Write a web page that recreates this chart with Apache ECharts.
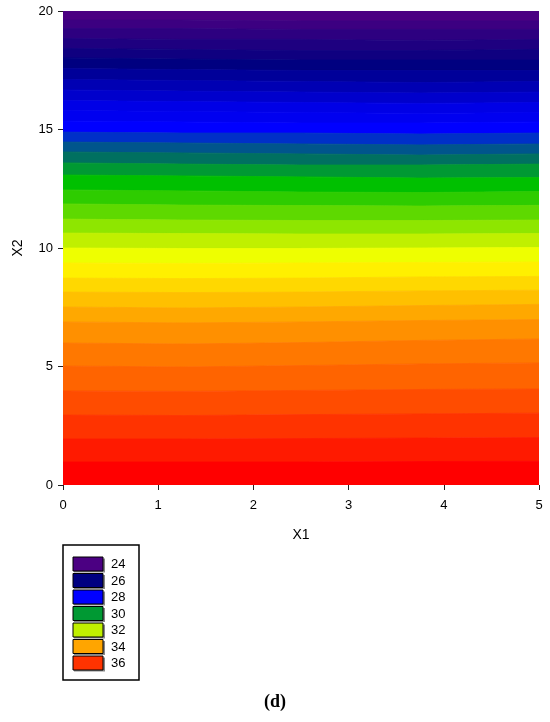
<!DOCTYPE html>
<html>
<head>
<meta charset="utf-8">
<title>Contour X1 X2</title>
<script src="https://cdn.jsdelivr.net/npm/echarts@6/dist/echarts.min.js"></script>
<style>
html, body { margin: 0; padding: 0; background: #fff; }
#chart { width: 550px; height: 722px; }
</style>
</head>
<body>
<div id="chart"></div>
<script>
// X1 positions where the contour lines were read
var x1Points = [0, 1.25, 2.5, 3.75, 5];

// lower level of each filled band, top of the plot to the bottom
var bandLevels = [24.0, 24.4, 24.8, 25.2, 25.6, 26.0, 26.4, 26.8, 27.2, 27.6, 28.0,
    28.4, 28.8, 29.2, 29.6, 30.0, 30.4, 30.8, 31.2, 31.6, 32.0, 32.4,
    32.8, 33.2, 33.6, 34.0, 34.4, 34.8, 35.2, 35.6, 36.0, 36.4, 36.8];

// X2 of each contour line (between two bands) at the x1Points
var contourX2 = [
    [19.62, 19.62, 19.58, 19.58, 19.58],
    [19.26, 19.26, 19.22, 19.22, 19.22],
    [18.84, 18.80, 18.80, 18.76, 18.80],
    [18.42, 18.38, 18.33, 18.33, 18.38],
    [18.02, 17.97, 17.93, 17.93, 17.93],
    [17.57, 17.53, 17.49, 17.49, 17.49],
    [17.11, 17.07, 17.03, 16.98, 17.03],
    [16.67, 16.62, 16.58, 16.54, 16.58],
    [16.22, 16.18, 16.14, 16.10, 16.14],
    [15.80, 15.76, 15.72, 15.68, 15.72],
    [15.36, 15.32, 15.27, 15.27, 15.32],
    [14.89, 14.85, 14.85, 14.81, 14.85],
    [14.47, 14.43, 14.39, 14.35, 14.39],
    [14.05, 14.01, 13.97, 13.92, 13.97],
    [13.59, 13.54, 13.50, 13.50, 13.54],
    [13.08, 13.04, 13.00, 12.95, 12.97],
    [12.45, 12.41, 12.36, 12.34, 12.38],
    [11.86, 11.81, 11.79, 11.77, 11.80],
    [11.22, 11.18, 11.16, 11.16, 11.18],
    [10.63, 10.61, 10.59, 10.59, 10.61],
    [10.00, 9.98, 9.98, 10.00, 10.02],
    [9.37, 9.35, 9.37, 9.39, 9.41],
    [8.73, 8.71, 8.73, 8.78, 8.80],
    [8.14, 8.12, 8.14, 8.19, 8.22],
    [7.51, 7.47, 7.51, 7.57, 7.62],
    [6.88, 6.84, 6.88, 6.94, 6.98],
    [5.99, 5.95, 6.01, 6.10, 6.16],
    [5.02, 4.98, 5.04, 5.11, 5.15],
    [3.97, 3.95, 3.99, 4.03, 4.05],
    [2.95, 2.93, 2.97, 3.00, 3.03],
    [1.94, 1.94, 1.96, 1.98, 2.00],
    [0.97, 0.97, 0.97, 0.99, 1.00]
];

// legend entries
var legendLevels = ['24', '26', '28', '30', '32', '34', '36'];

// colours (style only)
var bandColors = ['#4b0082', '#3c0081', '#2d0080', '#1e0080', '#0f0080', '#000080',
    '#000099', '#0000b3', '#0000cc', '#0000e6', '#0000f0', '#0000ff',
    '#0030c8', '#00558c', '#007060', '#009933', '#00c000', '#2ecc00',
    '#5ed900', '#8ee600', '#c0f000', '#eeff00', '#fff000', '#ffd800',
    '#ffc000', '#ffa800', '#ff9000', '#ff7800', '#ff6400', '#ff4c00',
    '#ff3300', '#ff1a00', '#ff0000'];
var legendColors = ['#4b0082', '#000080', '#0000ff', '#009933', '#c0f000', '#ffa500', '#ff3300'];

var X2_MIN = 0, X2_MAX = 20;
var FONT = 'Liberation Sans, Arial, sans-serif';

var myChart = echarts.init(document.getElementById('chart'), null, {renderer : 'canvas'});

function renderBand(params, api)
{
    var k = api.value(0);
    var upper = k === 0 ? null : contourX2[k - 1];
    var lower = k === contourX2.length ? null : contourX2[k];
    var pts = [];
    var i;
    for (i = 0; i < x1Points.length; i++)
    {
        pts.push(api.coord([x1Points[i], upper ? upper[i] : X2_MAX]));
    }
    for (i = x1Points.length - 1; i >= 0; i--)
    {
        pts.push(api.coord([x1Points[i], lower ? lower[i] : X2_MIN]));
    }
    var c = bandColors[k];
    return {
        type : 'polygon',
        shape : { points : pts },
        style : { fill : c, stroke : c, lineWidth : 0.8 }
    };
}

// legend box built from legendLevels
var legendItems = [];
var boxX = 63, boxY = 545, rowH = 16.5;
legendItems.push({
    type : 'rect',
    shape : { x : boxX, y : boxY, width : 76, height : 135 },
    style : { fill : '#fff', stroke : '#000', lineWidth : 1.5 }
});
legendLevels.forEach(function (lab, i)
{
    var y = boxY + 12 + i * rowH;
    legendItems.push({
        type : 'rect',
        shape : { x : boxX + 11, y : y + 1.5, width : 31, height : 14 },
        style : { fill : '#888', stroke : null }
    });
    legendItems.push({
        type : 'rect',
        shape : { x : boxX + 10, y : y, width : 30, height : 14 },
        style : { fill : legendColors[i], stroke : '#000', lineWidth : 1 }
    });
    legendItems.push({
        type : 'text',
        style : {
            text : lab, x : boxX + 48, y : y + 7.5,
            fill : '#000', font : '13px ' + FONT, verticalAlign : 'middle'
        }
    });
});
legendItems.push({
    type : 'text',
    style : {
        text : '(d)', x : 275, y : 702, align : 'center', verticalAlign : 'middle',
        fill : '#000', font : 'bold 18px "Liberation Serif", "Times New Roman", serif'
    }
});

var option =
{
    animation : false,
    grid : { left : 63, right : 11, top : 11, bottom : 237, containLabel : false },
    xAxis :
    {
        type : 'value', min : 0, max : 5, interval : 1,
        name : 'X1', nameLocation : 'middle', nameGap : 43,
        nameTextStyle : { color : '#000', fontSize : 14, fontFamily : FONT },
        axisLine : { show : false },
        axisTick : { show : true, length : 5, lineStyle : { color : '#222' } },
        axisLabel : { color : '#000', fontSize : 13, fontFamily : FONT, margin : 14 },
        splitLine : { show : false }
    },
    yAxis :
    {
        type : 'value', min : 0, max : 20, interval : 5,
        name : 'X2', nameLocation : 'middle', nameGap : 38,
        nameTextStyle : { color : '#000', fontSize : 14, fontFamily : FONT },
        axisLine : { show : false },
        axisTick : { show : true, length : 5, lineStyle : { color : '#222' } },
        axisLabel : { color : '#000', fontSize : 13, fontFamily : FONT, margin : 10 },
        splitLine : { show : false }
    },
    graphic : legendItems,
    series : [
        {
            type : 'custom',
            renderItem : renderBand,
            clip : true,
            z : 1,
            data : bandLevels.map(function (v, i) { return [i, v]; })
        }
    ]
};

myChart.setOption(option);
</script>
</body>
</html>
